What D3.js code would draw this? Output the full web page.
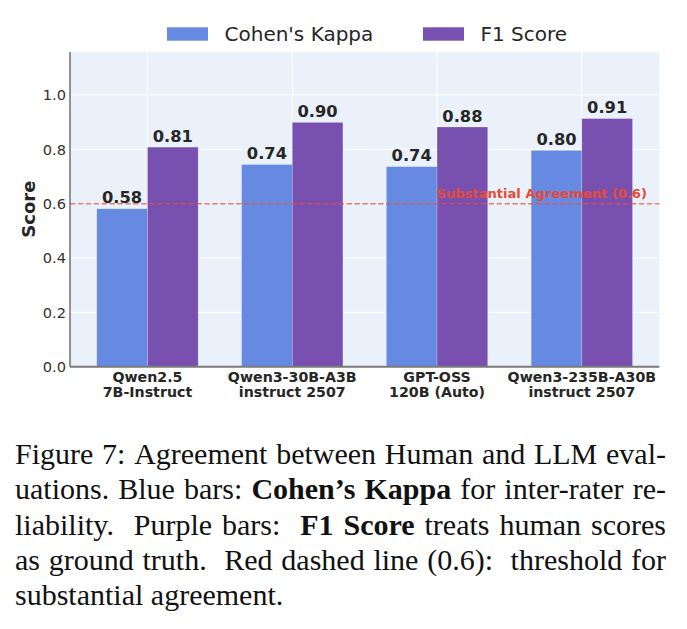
<!DOCTYPE html>
<html>
<head>
<meta charset="utf-8">
<script src="https://cdn.jsdelivr.net/npm/d3@7"></script>
<style>
  html, body { margin: 0; padding: 0; background: #fff; }
  svg { display: block; }
</style>
</head>
<body>
<div id="chart"></div>
<script>

// data
var models = [
    ['Qwen2.5', '7B-Instruct']
  , ['Qwen3-30B-A3B', 'instruct 2507']
  , ['GPT-OSS', '120B (Auto)']
  , ['Qwen3-235B-A30B', 'instruct 2507']
];
var kappa = [0.581, 0.744, 0.736, 0.796];
var f1 = [0.808, 0.899, 0.882, 0.913];
var seriesNames = ['Cohen\'s Kappa', 'F1 Score'];
var yTicks = [0.0, 0.2, 0.4, 0.6, 0.8, 1.0];
var threshold = 0.6;
var thresholdLabel = 'Substantial Agreement (0.6)';

// caption lines, each a list of [text, bold]; a double space is a sentence gap
var caption = [
    [['Figure 7: Agreement between Human and LLM eval-', false]]
  , [['uations. Blue bars: ', false], ['Cohen\u2019s Kappa', true], [' for inter-rater re-', false]]
  , [['liability.  Purple bars:  ', false], ['F1 Score', true], [' treats human scores', false]]
  , [['as ground truth.  Red dashed line (0.6):  threshold for', false]]
  , [['substantial agreement.', false]]
];

var W = 687, H = 629;
var colors = ['#668AE2', '#7851B0'];
var plot = { left: 70, right: 659.3, top: 52, bottom: 366.7 };

var svg = d3.select('#chart').append('svg')
    .attr('width', W)
    .attr('height', H);

var x = d3.scaleLinear()
    .domain([-0.535, models.length - 1 + 0.535])
    .range([plot.left, plot.right]);

var y = d3.scaleLinear()
    .domain([0, 1.158])
    .range([plot.bottom, plot.top]);

var barW = 0.35;

// background + grid
svg.append('rect')
    .attr('x', plot.left)
    .attr('y', plot.top)
    .attr('width', plot.right - plot.left)
    .attr('height', plot.bottom - plot.top)
    .attr('fill', '#EAF1FA');

svg.append('g').selectAll('line')
    .data(yTicks)
  .enter().append('line')
    .attr('x1', plot.left)
    .attr('x2', plot.right)
    .attr('y1', function(d) { return y(d); })
    .attr('y2', function(d) { return y(d); })
    .attr('stroke', '#fff')
    .attr('stroke-width', 1);

svg.append('g').selectAll('line')
    .data(models)
  .enter().append('line')
    .attr('x1', function(d, i) { return x(i); })
    .attr('x2', function(d, i) { return x(i); })
    .attr('y1', plot.top)
    .attr('y2', plot.bottom)
    .attr('stroke', '#fff')
    .attr('stroke-width', 1);

// bars
var series = [kappa, f1];
series.forEach(function(vals, s) {
  var off = s === 0 ? -barW : 0;
  var g = svg.append('g');

  g.selectAll('rect')
      .data(vals)
    .enter().append('rect')
      .attr('x', function(d, i) { return x(i + off); })
      .attr('y', function(d) { return y(d); })
      .attr('width', x(barW) - x(0))
      .attr('height', function(d) { return y(0) - y(d); })
      .attr('fill', colors[s])
      .attr('stroke', '#fff')
      .attr('stroke-opacity', 0.4)
      .attr('stroke-width', 0.5);

  g.selectAll('text')
      .data(vals)
    .enter().append('text')
      .attr('x', function(d, i) { return x(i + off + barW / 2); })
      .attr('y', function(d) { return y(d) - 5.5; })
      .attr('text-anchor', 'middle')
      .attr('font-family', 'DejaVu Sans')
      .attr('font-weight', 'bold')
      .attr('font-size', 16.3)
      .attr('fill', '#262626')
      .text(function(d) { return d.toFixed(2); });
});

// threshold
svg.append('line')
    .attr('x1', plot.left)
    .attr('x2', plot.right)
    .attr('y1', y(threshold))
    .attr('y2', y(threshold))
    .attr('stroke', '#E8503F')
    .attr('stroke-opacity', 0.75)
    .attr('stroke-width', 1.5)
    .attr('stroke-dasharray', '5.5,2.4');

svg.append('text')
    .attr('x', x(models.length - 1 + 0.45))
    .attr('y', y(threshold) - 5.5)
    .attr('text-anchor', 'end')
    .attr('font-family', 'DejaVu Sans')
    .attr('font-weight', 'bold')
    .attr('font-size', 13.1)
    .attr('fill', '#E64A35')
    .text(thresholdLabel);

// spines
svg.append('line')
    .attr('x1', plot.left).attr('x2', plot.left)
    .attr('y1', plot.top).attr('y2', plot.bottom)
    .attr('stroke', '#4d4d4d')
    .attr('stroke-width', 1.2);

svg.append('line')
    .attr('x1', plot.left).attr('x2', plot.right)
    .attr('y1', plot.bottom).attr('y2', plot.bottom)
    .attr('stroke', '#7a7a7a')
    .attr('stroke-width', 2);

// y ticks
svg.append('g').selectAll('text')
    .data(yTicks)
  .enter().append('text')
    .attr('x', plot.left - 4)
    .attr('y', function(d) { return y(d); })
    .attr('dy', '0.36em')
    .attr('text-anchor', 'end')
    .attr('font-family', 'DejaVu Sans')
    .attr('font-size', 14.6)
    .attr('fill', '#333')
    .text(function(d) { return d.toFixed(1); });

svg.append('text')
    .attr('transform', 'translate(35,' + y(0.58) + ') rotate(-90)')
    .attr('text-anchor', 'middle')
    .attr('font-family', 'DejaVu Sans')
    .attr('font-weight', 'bold')
    .attr('font-size', 18)
    .attr('fill', '#262626')
    .text('Score');

// x labels
var xl = svg.append('g').selectAll('text')
    .data(models)
  .enter().append('text')
    .attr('text-anchor', 'middle')
    .attr('font-family', 'DejaVu Sans')
    .attr('font-weight', 'bold')
    .attr('font-size', 14.2)
    .attr('fill', '#262626');

xl.each(function(d, i) {
  var t = d3.select(this);
  d.forEach(function(line, k) {
    t.append('tspan')
        .attr('x', x(i))
        .attr('y', 382 + k * 15)
        .text(line);
  });
});

// legend
var legendX = [167, 423];
var leg = svg.append('g').selectAll('g')
    .data(seriesNames)
  .enter().append('g')
    .attr('transform', function(d, i) { return 'translate(' + legendX[i] + ',0)'; });

leg.append('rect')
    .attr('x', 0)
    .attr('y', 27.3)
    .attr('width', 41)
    .attr('height', 13.4)
    .attr('fill', function(d, i) { return colors[i]; });

leg.append('text')
    .attr('x', 57.5)
    .attr('y', 41)
    .attr('font-family', 'DejaVu Sans')
    .attr('font-size', 20)
    .attr('fill', '#262626')
    .text(function(d) { return d; });

// caption, justified word by word
var capLeft = 15, capRight = 666, capSize = 30;
var capBase = [464, 499.3, 534.5, 569.5, 605];

caption.forEach(function(segs, li) {
  var words = [];
  var weights = [];
  var pending = 0;
  segs.forEach(function(seg) {
    seg[0].split(/( +)/).forEach(function(part) {
      if (!part.length) return;
      if (part[0] === ' ') { pending += part.length; return; }
      if (words.length) weights.push(Math.max(1, pending));
      pending = 0;
      words.push({ text: part, bold: seg[1] });
    });
  });

  var g = svg.append('g');
  var nodes = words.map(function(w) {
    return g.append('text')
        .attr('y', capBase[li])
        .attr('font-family', 'Liberation Serif')
        .attr('font-size', capSize)
        .attr('font-weight', w.bold ? 'bold' : 'normal')
        .attr('fill', '#111')
        .text(w.text);
  });

  var widths = nodes.map(function(n) { return n.node().getComputedTextLength(); });
  var total = d3.sum(widths);
  var last = li === caption.length - 1;
  var unit = last ? capSize * 0.25 : (capRight - capLeft - total) / d3.sum(weights);

  var cx = capLeft;
  nodes.forEach(function(n, k) {
    n.attr('x', cx);
    cx += widths[k] + (k < weights.length ? weights[k] * unit : 0);
  });
});

</script>
</body>
</html>
